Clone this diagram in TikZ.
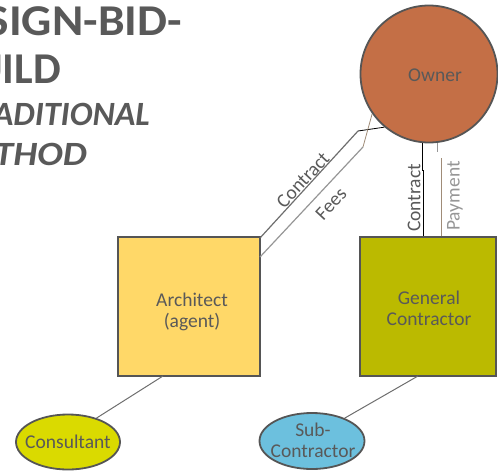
\documentclass[tikz,border=0pt]{standalone}
\usepackage{fontspec}
\setmainfont{Carlito}
\usetikzlibrary{shapes.geometric}
\definecolor{txtgray}{RGB}{89,89,89}
\definecolor{bordergray}{RGB}{85,85,85}
\definecolor{ownerfill}{RGB}{196,111,70}
\definecolor{archfill}{RGB}{255,216,104}
\definecolor{gcfill}{RGB}{187,186,0}
\definecolor{consfill}{RGB}{218,218,0}
\definecolor{subfill}{RGB}{108,192,222}
\definecolor{linegray}{RGB}{110,110,110}
\definecolor{paygray}{RGB}{150,150,150}
\definecolor{paybrown}{RGB}{160,140,120}
\begin{document}
\begin{tikzpicture}[x=1pt,y=-1pt,
  lbl/.style={text=txtgray,font=\fontsize{19.5}{21}\selectfont,align=center,inner sep=0pt},
  title/.style={text=txtgray,font=\fontsize{44}{46}\selectfont\bfseries,inner sep=0pt},
  subtitle/.style={text=txtgray,font=\fontsize{34}{36}\selectfont\bfseries\itshape,inner sep=0pt},
  boxnode/.style={draw=bordergray,line width=1.8pt,minimum width=142pt,minimum height=139pt,inner sep=0pt},
  ellnode/.style={ellipse,draw=bordergray,line width=1.8pt,inner sep=0pt},
  conn/.style={draw=linegray,line width=1pt}
]
\useasboundingbox (0,0) rectangle (498,472);
% title
\node[title,anchor=base east,xscale=1.08] (t1) at (182,35) {DESIGN-BID-};
\node[title,anchor=base east] (t2) at (61,83) {BUILD};
\node[subtitle,anchor=base east] (t3) at (150,125) {TRADITIONAL};
\node[subtitle,anchor=base east,xscale=1.12] (t4) at (87,165) {METHOD};
% nodes
\node[circle,draw=bordergray,line width=1.8pt,fill=ownerfill,minimum size=137pt,inner sep=0pt] (owner) at (429,74) {};
\node[lbl] at (435,75) {Owner};
\node[boxnode,fill=archfill] (arch) at (189,306.5) {};
\node[lbl] at (192,312) {Architect\\(agent)};
\node[boxnode,fill=gcfill,minimum width=136pt] (gc) at (428,306.5) {};
\node[lbl] at (429,308) {General\\Contractor};
\node[ellnode,fill=consfill,minimum width=104pt,minimum height=55pt] (cons) at (68,442) {};
\node[lbl] at (68,442) {Consultant};
\node[ellnode,fill=subfill,minimum width=105pt,minimum height=56pt] (sub) at (312,441) {};
\node[lbl] at (313,440) {Sub-\\Contractor};
% owner-architect
\coordinate (c1) at (358,131);
\coordinate (f1) at (363,147);
\coordinate (a1) at (260,238);
\coordinate (a2) at (260,257);
\draw[black,line width=0.8pt] (owner.-130) -- (c1);
\draw[linegray,line width=1.2pt] (c1) -- (a1);
\draw[paybrown,line width=0.8pt] (owner.-145) -- (f1);
\draw[paygray,line width=1.2pt] (f1) -- (a2);
\node[lbl,rotate=47] at (303,180) {Contract};
\node[lbl,rotate=47] at (331,204) {Fees};
% owner-gc
\coordinate (v1) at (423,170);
\coordinate (v2) at (441,158);
\draw[black,line width=1pt] (owner.-95) |- (v1);
\draw[black,line width=1pt] (v1) -- (v1 |- gc.north);
\draw[paygray,line width=1pt] (owner.-83) -- ++(0,9);
\draw[paybrown,line width=1pt] (v2) -- (v2 |- gc.north);
\node[lbl,rotate=90] at (414,198) {Contract};
\node[lbl,rotate=90,text=paygray] at (455,196) {Payment};
% lower connectors
\coordinate (ab) at (163,376);
\coordinate (gb) at (418,376);
\draw[conn] (ab) -- (cons.40);
\draw[conn] (gb) -- (sub.35);
\end{tikzpicture}
\end{document}
